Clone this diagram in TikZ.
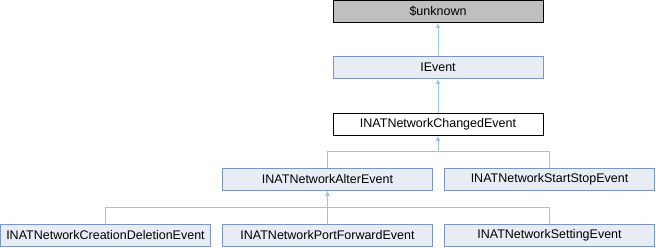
\documentclass[tikz,border=0pt]{standalone}
\usepackage{fontspec}
\setmainfont{Liberation Sans}
\usetikzlibrary{arrows.meta}
\definecolor{boxfill}{RGB}{232,236,245}
\definecolor{boxline}{RGB}{124,149,200}
\definecolor{unkfill}{RGB}{191,191,191}
\definecolor{edgeblue}{RGB}{150,200,230}
\tikzset{
  cls/.style={draw=boxline,fill=boxfill,line width=1pt,minimum width=210pt,minimum height=22pt,inner sep=0pt,font=\fontsize{12.5}{14}\selectfont},
  inh/.style={draw=edgeblue,line width=1pt,-{Latex[length=5pt,width=5pt]}}
}
\begin{document}
\begin{tikzpicture}[x=1pt,y=1pt,line cap=butt,line join=miter]
  \useasboundingbox (0,0) rectangle (656,-248);
  \node[cls,draw=black,fill=unkfill] (unknown) at (438,-11.5) {\$unknown};
  \node[cls] (ievent) at (438,-67.5) {IEvent};
  \node[cls,draw=black,fill=white] (changed) at (438,-124.5) {INATNetworkChangedEvent};
  \node[cls] (alter) at (327.5,-179.5) {INATNetworkAlterEvent};
  \node[cls] (startstop) at (549.5,-179.5) {INATNetworkStartStopEvent};
  \node[cls] (creation) at (105.5,-235.5) {INATNetworkCreationDeletionEvent};
  \node[cls] (portfwd) at (327.5,-235.5) {INATNetworkPortForwardEvent};
  \node[cls] (setting) at (549.5,-235.5) {INATNetworkSettingEvent};
  % inheritance
  \draw[inh] (ievent.north) -- (unknown.south);
  \draw[inh] (changed.north) -- (ievent.south);
  \draw[inh] (alter.north) -- ++(0,16) -| (changed.south);
  \draw[inh] (startstop.north) -- ++(0,16) -| (changed.south);
  \draw[inh] (creation.north) -- ++(0,16) -| (alter.south);
  \draw[inh] (portfwd.north) -- (alter.south);
  \draw[inh] (setting.north) -- ++(0,16) -| (alter.south);
\end{tikzpicture}
\end{document}
